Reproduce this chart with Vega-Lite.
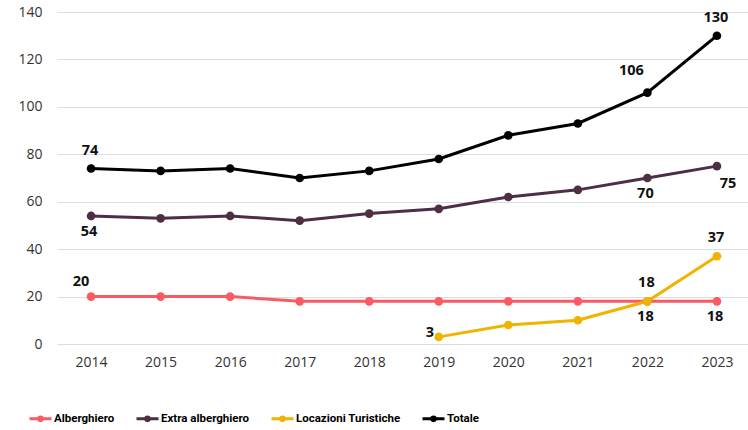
{
  "$schema": "https://vega.github.io/schema/vega-lite/v6.json",
  "width": 694,
  "height": 332,
  "autosize": {"type": "none"},
  "padding": {"left": 57, "top": 12, "right": 0, "bottom": 86},
  "background": "white",
  "config": {
    "view": {"stroke": null},
    "font": "Open Sans",
    "axis": {"labelFont": "Open Sans", "labelColor": "#333", "labelFontSize": 14, "domain": false, "ticks": false}
  },
  "data": {
    "values": [
      {"serie": "Alberghiero", "anno": "2014", "valore": 20},
      {"serie": "Alberghiero", "anno": "2015", "valore": 20},
      {"serie": "Alberghiero", "anno": "2016", "valore": 20},
      {"serie": "Alberghiero", "anno": "2017", "valore": 18},
      {"serie": "Alberghiero", "anno": "2018", "valore": 18},
      {"serie": "Alberghiero", "anno": "2019", "valore": 18},
      {"serie": "Alberghiero", "anno": "2020", "valore": 18},
      {"serie": "Alberghiero", "anno": "2021", "valore": 18},
      {"serie": "Alberghiero", "anno": "2022", "valore": 18},
      {"serie": "Alberghiero", "anno": "2023", "valore": 18},
      {"serie": "Extra alberghiero", "anno": "2014", "valore": 54},
      {"serie": "Extra alberghiero", "anno": "2015", "valore": 53},
      {"serie": "Extra alberghiero", "anno": "2016", "valore": 54},
      {"serie": "Extra alberghiero", "anno": "2017", "valore": 52},
      {"serie": "Extra alberghiero", "anno": "2018", "valore": 55},
      {"serie": "Extra alberghiero", "anno": "2019", "valore": 57},
      {"serie": "Extra alberghiero", "anno": "2020", "valore": 62},
      {"serie": "Extra alberghiero", "anno": "2021", "valore": 65},
      {"serie": "Extra alberghiero", "anno": "2022", "valore": 70},
      {"serie": "Extra alberghiero", "anno": "2023", "valore": 75},
      {"serie": "Locazioni Turistiche", "anno": "2019", "valore": 3},
      {"serie": "Locazioni Turistiche", "anno": "2020", "valore": 8},
      {"serie": "Locazioni Turistiche", "anno": "2021", "valore": 10},
      {"serie": "Locazioni Turistiche", "anno": "2022", "valore": 18},
      {"serie": "Locazioni Turistiche", "anno": "2023", "valore": 37},
      {"serie": "Totale", "anno": "2014", "valore": 74},
      {"serie": "Totale", "anno": "2015", "valore": 73},
      {"serie": "Totale", "anno": "2016", "valore": 74},
      {"serie": "Totale", "anno": "2017", "valore": 70},
      {"serie": "Totale", "anno": "2018", "valore": 73},
      {"serie": "Totale", "anno": "2019", "valore": 78},
      {"serie": "Totale", "anno": "2020", "valore": 88},
      {"serie": "Totale", "anno": "2021", "valore": 93},
      {"serie": "Totale", "anno": "2022", "valore": 106},
      {"serie": "Totale", "anno": "2023", "valore": 130}
    ]
  },
  "encoding": {
    "x": {
      "field": "anno", "type": "ordinal", "title": null,
      "scale": {"type": "point", "padding": 0.49},
      "axis": {"labelAngle": 0, "labelPadding": 11, "grid": false}
    },
    "y": {
      "field": "valore", "type": "quantitative", "title": null,
      "scale": {"domain": [0, 140], "nice": false},
      "axis": {"values": [0, 20, 40, 60, 80, 100, 120, 140], "labelPadding": 15, "gridColor": "#dcdcdc", "gridWidth": 1}
    }
  },
  "layer": [
    {
      "mark": {"type": "line", "strokeWidth": 3, "point": {"size": 75, "filled": true, "opacity": 1}},
      "encoding": {
        "color": {
          "field": "serie", "type": "nominal",
          "scale": {"domain": ["Alberghiero", "Extra alberghiero", "Locazioni Turistiche", "Totale"], "range": ["#fb5a63", "#4d2e45", "#f0b400", "#000000"]},
          "legend": {
            "title": null, "orient": "none", "direction": "horizontal",
            "legendX": -29, "legendY": 394,
            "symbolType": "M-1,0H1M-0.16,0A0.16,0.16,0,1,0,0.16,0A0.16,0.16,0,1,0,-0.16,0",
            "symbolSize": 484, "symbolStrokeWidth": 3, "symbolOffset": 0,
            "labelFont": "Roboto",
            "labelFontSize": 11.5, "labelFontWeight": "bold", "labelColor": "#000", "labelOffset": 1,
            "columnPadding": 15
          }
        }
      }
    },
    {
      "transform": [{"filter": "(datum.serie==='Totale' && (datum.anno==='2014' || datum.anno==='2023')) || (datum.serie==='Locazioni Turistiche' && (datum.anno==='2022' || datum.anno==='2023'))"}],
      "mark": {"type": "text", "fontWeight": "bold", "fontSize": 14.5, "color": "#111", "dy": -18, "dx": -1},
      "encoding": {"text": {"field": "valore", "type": "quantitative"}}
    },
    {
      "transform": [{"filter": "datum.serie==='Totale' && datum.anno==='2022'"}],
      "mark": {"type": "text", "fontWeight": "bold", "fontSize": 14.5, "color": "#111", "dy": -22, "dx": -16},
      "encoding": {"text": {"field": "valore", "type": "quantitative"}}
    },
    {
      "transform": [{"filter": "datum.serie==='Alberghiero' && datum.anno==='2014'"}],
      "mark": {"type": "text", "fontWeight": "bold", "fontSize": 14.5, "color": "#111", "dy": -15, "dx": -10},
      "encoding": {"text": {"field": "valore", "type": "quantitative"}}
    },
    {
      "transform": [{"filter": "(datum.serie==='Extra alberghiero' && (datum.anno==='2014' || datum.anno==='2022')) || (datum.serie==='Alberghiero' && (datum.anno==='2022' || datum.anno==='2023'))"}],
      "mark": {"type": "text", "fontWeight": "bold", "fontSize": 14.5, "color": "#111", "dy": 16, "dx": -2},
      "encoding": {"text": {"field": "valore", "type": "quantitative"}}
    },
    {
      "transform": [{"filter": "datum.serie==='Extra alberghiero' && datum.anno==='2023'"}],
      "mark": {"type": "text", "fontWeight": "bold", "fontSize": 14.5, "color": "#111", "dy": 18, "dx": 11},
      "encoding": {"text": {"field": "valore", "type": "quantitative"}}
    },
    {
      "transform": [{"filter": "datum.serie==='Locazioni Turistiche' && datum.anno==='2019'"}],
      "mark": {"type": "text", "fontWeight": "bold", "fontSize": 14.5, "color": "#111", "dy": -4, "dx": -9},
      "encoding": {"text": {"field": "valore", "type": "quantitative"}}
    }
  ]
}
